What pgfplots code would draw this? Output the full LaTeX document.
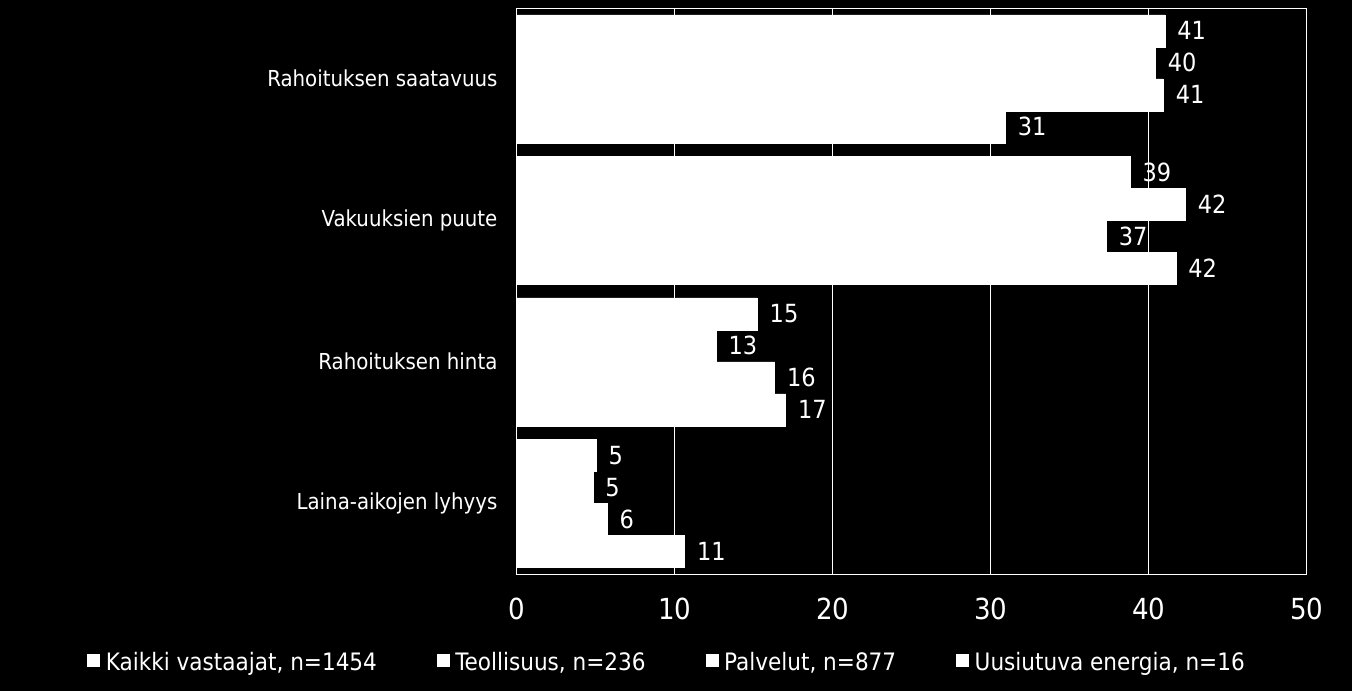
\documentclass[border=0pt]{standalone}
\usepackage{fontspec}
\setmainfont{DejaVu Sans Condensed}
\usepackage{pgfplots}
\pgfplotsset{compat=1.18}
\begin{document}
\begin{tikzpicture}
\fill[black] (-517pt,-117pt) rectangle (835pt,574pt);
\begin{axis}[
    at={(0pt,0pt)}, anchor=south west,
    scale only axis, width=790pt, height=566pt,
    xbar, bar width=32pt,
    xmin=0, xmax=50, ymin=-0.5, ymax=3.5, y dir=reverse,
    ytick={0,1,2,3},
    yticklabels={Rahoituksen saatavuus, Vakuuksien puute, Rahoituksen hinta, Laina-aikojen lyhyys},
    xtick={0,10,...,50},
    xmajorgrids, grid style={white, line width=1pt},
    axis line style={white, line width=1pt},
    major tick length=0pt,
    tick label style={white},
    xticklabel style={font=\fontsize{29}{33}\selectfont, yshift=-20pt},
    yticklabel style={font=\fontsize{22}{26}\selectfont, xshift=-16pt},
    /pgf/number format/assume math mode=true,
    nodes near coords,
    nodes near coords style={white, font=\fontsize{25}{29}\selectfont, xshift=9pt,
        /pgf/number format/fixed, /pgf/number format/precision=0},
    legend columns=4,
    legend style={at={(0.19,-0.155)}, anchor=center, fill=black, draw=none,
        text=white, font=\fontsize{24}{28}\selectfont,
        /tikz/every odd column/.append style={column sep=4pt},
        /tikz/every even column/.append style={column sep=58pt}},
    legend image code/.code={\fill[white] (0pt,-5pt) rectangle (12pt,7pt);},
]
\addplot[fill=white, draw=white, line width=0.5pt, bar shift=48pt] coordinates {(41.0,0) (38.8,1) (15.2,2) (5.0,3)};
\addplot[fill=white, draw=white, line width=0.5pt, bar shift=16pt] coordinates {(40.4,0) (42.3,1) (12.6,2) (4.8,3)};
\addplot[fill=white, draw=white, line width=0.5pt, bar shift=-16pt] coordinates {(40.9,0) (37.3,1) (16.3,2) (5.7,3)};
\addplot[fill=white, draw=white, line width=0.5pt, bar shift=-48pt] coordinates {(30.9,0) (41.7,1) (17.0,2) (10.6,3)};
\legend{{Kaikki vastaajat, n=1454}, {Teollisuus, n=236}, {Palvelut, n=877}, {Uusiutuva energia, n=16}}
\end{axis}
\end{tikzpicture}
\end{document}
